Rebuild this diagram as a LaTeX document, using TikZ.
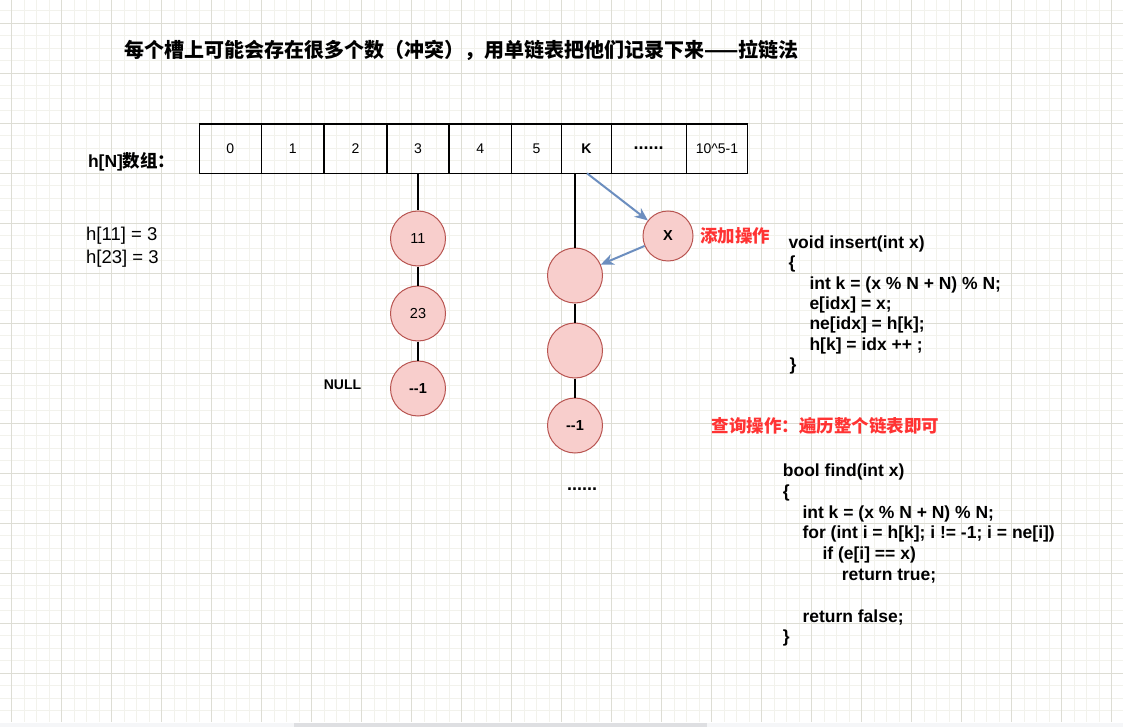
\documentclass[tikz,border=0pt]{standalone}
\usepackage{fontspec}
\setmainfont{Liberation Sans}
\newfontfamily\cjk{Noto Sans CJK SC}
\usetikzlibrary{arrows.meta}
\definecolor{gmajor}{RGB}{221,221,212}
\definecolor{gminor}{RGB}{242,242,236}
\definecolor{nodefill}{HTML}{F8CECC}
\definecolor{nodeline}{HTML}{B85450}
\definecolor{arrblue}{HTML}{6C8EBF}
\definecolor{redtxt}{HTML}{FF3333}
\definecolor{sbtrack}{RGB}{245,246,248}
\definecolor{sbbar}{RGB}{222,223,226}
\newcommand{\fs}[1]{\fontsize{#1}{#1}\selectfont}
\tikzset{
  cell/.style={draw=black, line width=1.3pt, minimum height=49.3pt, inner sep=0pt, font=\fs{14}},
  listnode/.style={circle, draw=nodeline, fill=nodefill, line width=1pt, minimum size=55pt, inner sep=0pt, font=\fs{14.5}},
  xnode/.style={listnode, minimum size=50pt},
  link/.style={draw=black, line width=1.1pt},
  addarrow/.style={draw=arrblue, line width=2pt, -{Stealth[length=13pt,width=11pt,inset=4pt]}},
  code/.style={anchor=base west, inner sep=0pt, font=\bfseries\fs{17.5}},
  note/.style={inner sep=0pt, font=\fs{18.5}}
}
\begin{document}
\begin{tikzpicture}[x=1pt,y=-1pt]
\useasboundingbox (0,0) rectangle (1123,727);
% background grid
\fill[white] (0,0) rectangle (1123,727);
\foreach \i in {-1,...,89} {\draw[gminor, line width=1pt] ({11.7+12.5*\i},0) -- ({11.7+12.5*\i},722);}
\foreach \j in {-1,...,56} {\draw[gminor, line width=1pt] (0,{23.3+12.5*\j}) -- (1123,{23.3+12.5*\j});}
\foreach \i in {0,...,22} {\draw[gmajor, line width=1pt] ({11.7+50*\i},0) -- ({11.7+50*\i},722);}
\foreach \j in {0,...,13} {\draw[gmajor, line width=1pt] (0,{23.3+50*\j}) -- (1123,{23.3+50*\j});}
% scrollbar strip
\fill[sbtrack] (0,722.5) rectangle (1123,727);
\fill[sbbar] (294,722.5) rectangle (707,727);

% title
\node[inner sep=0pt, font=\cjk\bfseries\fs{20}] (title) at (461.6,50) {每个槽上可能会存在很多个数（冲突），用单链表把他们记录下来——拉链法};

% array label
\node[inner sep=0pt, anchor=west, font=\bfseries\fs{17.5}] (hlabel) at (87.8,162) {h[N]{\cjk 数组：}};

% array cells
\node[cell, minimum width=62pt]   (c0) at (230.3,148.6) {0};
\node[cell, minimum width=62.8pt] (c1) at (292.7,148.6) {1};
\node[cell, minimum width=62.9pt] (c2) at (355.5,148.6) {2};
\node[cell, minimum width=62pt]   (c3) at (418,148.6) {3};
\node[cell, minimum width=62.5pt] (c4) at (480.25,148.6) {4};
\node[cell, minimum width=49.9pt] (c5) at (536.45,148.6) {5};
\node[cell, minimum width=49.8pt, font=\bfseries\fs{14}] (cK) at (586.3,148.6) {K};
\node[cell, minimum width=75pt, font=\bfseries\fs{18}] (cD) at (648.7,148.6) {......};
\node[cell, minimum width=61.6pt] (cL) at (717,148.6) {10\^{}5-1};

% h[...] notes
\node[note, anchor=base west] (h11) at (86,240.5) {h[11] = 3};
\node[note, anchor=base west] (h23) at (86,263.5) {h[23] = 3};

% chain for slot 3
\node[listnode] (n11) at (418,238.5) {11};
\node[listnode] (n23) at (418,313.5) {23};
\node[listnode, font=\bfseries\fs{14.5}] (n3end) at (418,388.5) {-{}-1};
\node[inner sep=0pt, font=\bfseries\fs{14}] (null) at (342.5,385) {NULL};
\draw[link] (c3.south) -- (n11);
\draw[link] (n11) -- (n23);
\draw[link] (n23) -- (n3end);

% chain for slot K
\coordinate (kline) at (575,173.3);
\coordinate (karr) at (587,173.3);
\node[listnode] (k1) at (575,275.5) {};
\node[listnode] (k2) at (575,350.5) {};
\node[listnode, font=\bfseries\fs{14.5}] (k3) at (575,425.5) {-{}-1};
\node[inner sep=0pt, font=\bfseries\fs{18}] (kdots) at (582,489) {......};
\draw[link] (kline) -- (k1);
\draw[link] (k1) -- (k2);
\draw[link] (k2) -- (k3);

% insertion
\node[xnode, font=\bfseries\fs{14.5}] (xn) at (668,236) {X};
\draw[addarrow] (karr) -- (xn);
\draw[addarrow] (xn) -- (k1);
\node[inner sep=0pt, font=\cjk\bfseries\fs{17.5}, text=redtxt] (addlbl) at (735,236) {添加操作};

% insert code
\node[code] (i1) at (788.3,248.5) {void insert(int x)};
\node[code] (i2) at (788.3,268.8) {\{};
\node[code] (i3) at (809.3,289.1) {int k = (x \% N + N) \% N;};
\node[code] (i4) at (809.3,309.4) {e[idx] = x;};
\node[code] (i5) at (809.3,329.7) {ne[idx] = h[k];};
\node[code] (i6) at (809.3,350.0) {h[k] = idx ++ ;};
\node[code] (i7) at (789.5,370.3) {\}};

% query label
\node[inner sep=0pt, anchor=west, font=\cjk\bfseries\fs{17.5}, text=redtxt] (qlbl) at (711.7,426) {查询操作：遍历整个链表即可};

% find code
\node[code] (f1) at (782.7,476.5) {bool find(int x)};
\node[code] (f2) at (782.7,497.3) {\{};
\node[code] (f3) at (802.3,518.1) {int k = (x \% N + N) \% N;};
\node[code] (f4) at (802.3,538.9) {for (int i = h[k]; i != -1; i = ne[i])};
\node[code] (f5) at (822.3,559.7) {if (e[i] == x)};
\node[code] (f6) at (841.7,580.5) {return true;};
\node[code] (f8) at (802.3,622.1) {return false;};
\node[code] (f9) at (782.7,642.9) {\}};
\end{tikzpicture}
\end{document}
